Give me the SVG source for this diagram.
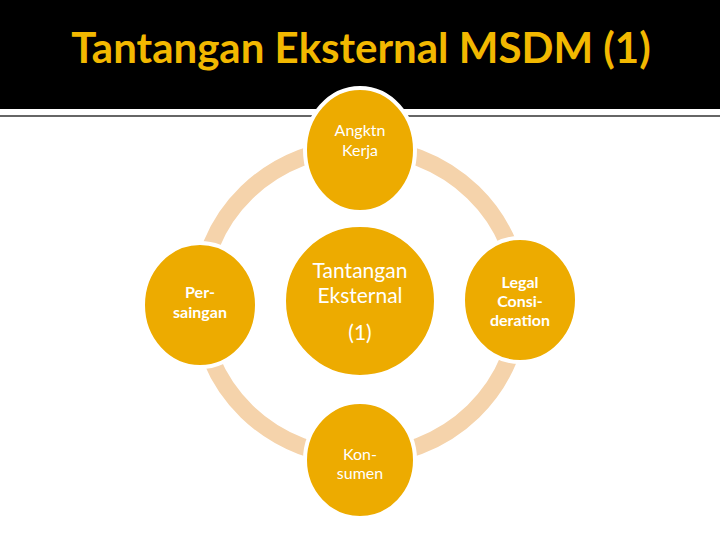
<svg xmlns="http://www.w3.org/2000/svg" width="720" height="540" viewBox="0 0 720 540">
<style>
.n{fill:#EDAB00;stroke:#fff;stroke-width:4}
.t{font-family:Lato,"Open Sans",sans-serif;fill:#fff;text-anchor:middle}
</style>
<rect width="720" height="540" fill="#fff"/>
<rect width="720" height="109" fill="#000"/>
<rect y="115" width="720" height="2" fill="#666"/>
<text x="361" y="63" font-family="Lato,'Open Sans',sans-serif" font-size="42" font-weight="bold" fill="#F2B800" text-anchor="middle">Tantangan Eksternal MSDM (1)</text>
<g id="connectors"><ellipse cx="360" cy="302" rx="160" ry="155" fill="none" stroke="#F5D3AB" stroke-width="17"/></g>
<g id="top"><ellipse class="n" cx="360" cy="150" rx="55" ry="62"/><text class="t" font-size="16" x="360" y="136">Angktn</text><text class="t" font-size="16" x="360" y="156">Kerja</text></g>
<g id="left"><ellipse class="n" cx="200" cy="305" rx="57" ry="62"/><text class="t" font-size="16" font-weight="bold" x="200" y="298">Per-</text><text class="t" font-size="16" font-weight="bold" x="200" y="318">saingan</text></g>
<g id="right"><ellipse class="n" cx="520" cy="300" rx="57" ry="62"/><text class="t" font-size="16" font-weight="bold" x="520" y="288">Legal</text><text class="t" font-size="16" font-weight="bold" x="520" y="307">Consi-</text><text class="t" font-size="16" font-weight="bold" x="520" y="326">deration</text></g>
<g id="bottom"><ellipse class="n" cx="360" cy="460" rx="55" ry="58"/><text class="t" font-size="16" x="360" y="460">Kon-</text><text class="t" font-size="16" x="360" y="479">sumen</text></g>
<g id="center"><ellipse class="n" cx="360" cy="301" rx="76" ry="76"/><text class="t" font-size="21" x="360" y="278">Tantangan</text><text class="t" font-size="21" x="360" y="303">Eksternal</text><text class="t" font-size="21" x="360" y="340">(1)</text></g>
</svg>
